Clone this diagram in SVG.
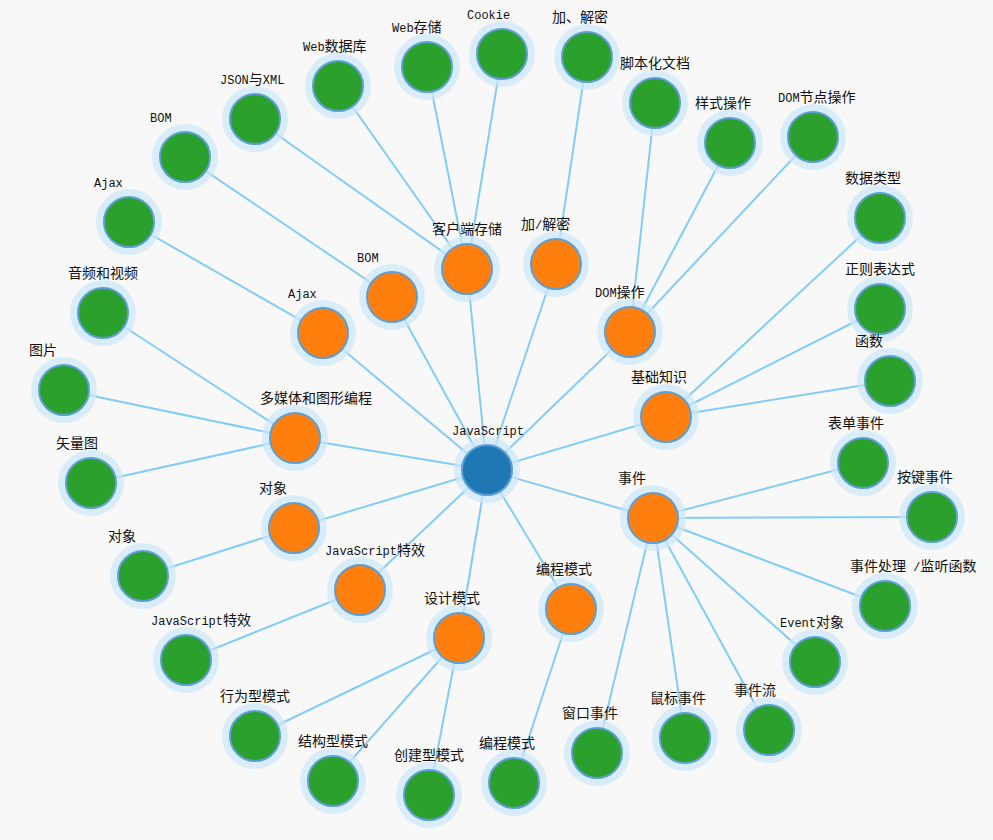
<svg xmlns="http://www.w3.org/2000/svg" width="993" height="840" viewBox="0 0 993 840">
<style>
.bg{fill:#f8f8f8}
.e{stroke:#82cdf8;stroke-width:2;fill:none}
.h{fill:#cce7fb;opacity:0.7}
.c{stroke:#5b9fd6;stroke-width:2}
.g{fill:#2ca02c}
.o{fill:#ff7f0e}
.b{fill:#1f77b4}
text{font-family:"Liberation Mono","Noto Sans CJK SC",monospace;font-size:14px;fill:#111}
.m{font-size:12px}
</style>
<rect class="bg" x="0" y="0" width="993" height="840"/>
<g id="connectors">
<line class="e" x1="487" y1="470" x2="467" y2="269"/>
<line class="e" x1="487" y1="470" x2="392" y2="297"/>
<line class="e" x1="487" y1="470" x2="323" y2="333"/>
<line class="e" x1="487" y1="470" x2="556" y2="264"/>
<line class="e" x1="487" y1="470" x2="630" y2="332"/>
<line class="e" x1="487" y1="470" x2="666" y2="417"/>
<line class="e" x1="487" y1="470" x2="653" y2="518"/>
<line class="e" x1="487" y1="470" x2="571" y2="609"/>
<line class="e" x1="487" y1="470" x2="459" y2="638"/>
<line class="e" x1="487" y1="470" x2="360" y2="590"/>
<line class="e" x1="487" y1="470" x2="294" y2="528"/>
<line class="e" x1="487" y1="470" x2="295" y2="438"/>
<line class="e" x1="467" y1="269" x2="338" y2="86"/>
<line class="e" x1="467" y1="269" x2="427" y2="67"/>
<line class="e" x1="467" y1="269" x2="502" y2="54"/>
<line class="e" x1="467" y1="269" x2="255" y2="119"/>
<line class="e" x1="392" y1="297" x2="185" y2="157"/>
<line class="e" x1="323" y1="333" x2="129" y2="222"/>
<line class="e" x1="556" y1="264" x2="587" y2="57"/>
<line class="e" x1="630" y1="332" x2="655" y2="103"/>
<line class="e" x1="630" y1="332" x2="730" y2="143"/>
<line class="e" x1="630" y1="332" x2="813" y2="137"/>
<line class="e" x1="666" y1="417" x2="880" y2="218"/>
<line class="e" x1="666" y1="417" x2="880" y2="309"/>
<line class="e" x1="666" y1="417" x2="890" y2="381"/>
<line class="e" x1="653" y1="518" x2="863" y2="463"/>
<line class="e" x1="653" y1="518" x2="932" y2="517"/>
<line class="e" x1="653" y1="518" x2="885" y2="606"/>
<line class="e" x1="653" y1="518" x2="815" y2="662"/>
<line class="e" x1="653" y1="518" x2="769" y2="730"/>
<line class="e" x1="653" y1="518" x2="685" y2="738"/>
<line class="e" x1="653" y1="518" x2="597" y2="753"/>
<line class="e" x1="571" y1="609" x2="514" y2="783"/>
<line class="e" x1="459" y1="638" x2="429" y2="795"/>
<line class="e" x1="459" y1="638" x2="333" y2="781"/>
<line class="e" x1="459" y1="638" x2="255" y2="736"/>
<line class="e" x1="360" y1="590" x2="186" y2="660"/>
<line class="e" x1="294" y1="528" x2="143" y2="576"/>
<line class="e" x1="295" y1="438" x2="91" y2="483"/>
<line class="e" x1="295" y1="438" x2="64" y2="390"/>
<line class="e" x1="295" y1="438" x2="103" y2="313"/>
</g>
<g id="n-js"><circle class="h" cx="487" cy="470" r="33"/><circle class="c b" cx="487" cy="470" r="25"/><text class="m" x="452" y="435">JavaScript</text></g>
<g id="n-khd"><circle class="h" cx="467" cy="269" r="33"/><circle class="c o" cx="467" cy="269" r="25"/><text x="432" y="234">客户端存储</text></g>
<g id="n-bomO"><circle class="h" cx="392" cy="297" r="33"/><circle class="c o" cx="392" cy="297" r="25"/><text class="m" x="357" y="262">BOM</text></g>
<g id="n-ajaxO"><circle class="h" cx="323" cy="333" r="33"/><circle class="c o" cx="323" cy="333" r="25"/><text class="m" x="288" y="298">Ajax</text></g>
<g id="n-jmO"><circle class="h" cx="556" cy="264" r="33"/><circle class="c o" cx="556" cy="264" r="25"/><text x="521" y="229">加<tspan class="m">/</tspan>解密</text></g>
<g id="n-domO"><circle class="h" cx="630" cy="332" r="33"/><circle class="c o" cx="630" cy="332" r="25"/><text x="595" y="297"><tspan class="m">DOM</tspan>操作</text></g>
<g id="n-jc"><circle class="h" cx="666" cy="417" r="33"/><circle class="c o" cx="666" cy="417" r="25"/><text x="631" y="382">基础知识</text></g>
<g id="n-sj"><circle class="h" cx="653" cy="518" r="33"/><circle class="c o" cx="653" cy="518" r="25"/><text x="618" y="483">事件</text></g>
<g id="n-bcO"><circle class="h" cx="571" cy="609" r="33"/><circle class="c o" cx="571" cy="609" r="25"/><text x="536" y="574">编程模式</text></g>
<g id="n-sjms"><circle class="h" cx="459" cy="638" r="33"/><circle class="c o" cx="459" cy="638" r="25"/><text x="424" y="603">设计模式</text></g>
<g id="n-texO"><circle class="h" cx="360" cy="590" r="33"/><circle class="c o" cx="360" cy="590" r="25"/><text x="325" y="555"><tspan class="m">JavaScript</tspan>特效</text></g>
<g id="n-dxO"><circle class="h" cx="294" cy="528" r="33"/><circle class="c o" cx="294" cy="528" r="25"/><text x="259" y="493">对象</text></g>
<g id="n-dmt"><circle class="h" cx="295" cy="438" r="33"/><circle class="c o" cx="295" cy="438" r="25"/><text x="260" y="403">多媒体和图形编程</text></g>
<g id="n-webdb"><circle class="h" cx="338" cy="86" r="33"/><circle class="c g" cx="338" cy="86" r="25"/><text x="303" y="51"><tspan class="m">Web</tspan>数据库</text></g>
<g id="n-webcc"><circle class="h" cx="427" cy="67" r="33"/><circle class="c g" cx="427" cy="67" r="25"/><text x="392" y="32"><tspan class="m">Web</tspan>存储</text></g>
<g id="n-cookie"><circle class="h" cx="502" cy="54" r="33"/><circle class="c g" cx="502" cy="54" r="25"/><text class="m" x="467" y="19">Cookie</text></g>
<g id="n-json"><circle class="h" cx="255" cy="119" r="33"/><circle class="c g" cx="255" cy="119" r="25"/><text x="220" y="84"><tspan class="m">JSON</tspan>与<tspan class="m">XML</tspan></text></g>
<g id="n-bomG"><circle class="h" cx="185" cy="157" r="33"/><circle class="c g" cx="185" cy="157" r="25"/><text class="m" x="150" y="122">BOM</text></g>
<g id="n-ajaxG"><circle class="h" cx="129" cy="222" r="33"/><circle class="c g" cx="129" cy="222" r="25"/><text class="m" x="94" y="187">Ajax</text></g>
<g id="n-jmG"><circle class="h" cx="587" cy="57" r="33"/><circle class="c g" cx="587" cy="57" r="25"/><text x="552" y="22">加、解密</text></g>
<g id="n-jbh"><circle class="h" cx="655" cy="103" r="33"/><circle class="c g" cx="655" cy="103" r="25"/><text x="620" y="68">脚本化文档</text></g>
<g id="n-ysc"><circle class="h" cx="730" cy="143" r="33"/><circle class="c g" cx="730" cy="143" r="25"/><text x="695" y="108">样式操作</text></g>
<g id="n-domjd"><circle class="h" cx="813" cy="137" r="33"/><circle class="c g" cx="813" cy="137" r="25"/><text x="778" y="102"><tspan class="m">DOM</tspan>节点操作</text></g>
<g id="n-sjlx"><circle class="h" cx="880" cy="218" r="33"/><circle class="c g" cx="880" cy="218" r="25"/><text x="845" y="183">数据类型</text></g>
<g id="n-zz"><circle class="h" cx="880" cy="309" r="33"/><circle class="c g" cx="880" cy="309" r="25"/><text x="845" y="274">正则表达式</text></g>
<g id="n-hs"><circle class="h" cx="890" cy="381" r="33"/><circle class="c g" cx="890" cy="381" r="25"/><text x="855" y="346">函数</text></g>
<g id="n-bd"><circle class="h" cx="863" cy="463" r="33"/><circle class="c g" cx="863" cy="463" r="25"/><text x="828" y="428">表单事件</text></g>
<g id="n-aj"><circle class="h" cx="932" cy="517" r="33"/><circle class="c g" cx="932" cy="517" r="25"/><text x="897" y="482">按键事件</text></g>
<g id="n-sjcl"><circle class="h" cx="885" cy="606" r="33"/><circle class="c g" cx="885" cy="606" r="25"/><text x="850" y="571">事件处理<tspan class="m" xml:space="preserve"> /</tspan>监听函数</text></g>
<g id="n-event"><circle class="h" cx="815" cy="662" r="33"/><circle class="c g" cx="815" cy="662" r="25"/><text x="780" y="627"><tspan class="m">Event</tspan>对象</text></g>
<g id="n-sjl"><circle class="h" cx="769" cy="730" r="33"/><circle class="c g" cx="769" cy="730" r="25"/><text x="734" y="695">事件流</text></g>
<g id="n-sb"><circle class="h" cx="685" cy="738" r="33"/><circle class="c g" cx="685" cy="738" r="25"/><text x="650" y="703">鼠标事件</text></g>
<g id="n-ck"><circle class="h" cx="597" cy="753" r="33"/><circle class="c g" cx="597" cy="753" r="25"/><text x="562" y="718">窗口事件</text></g>
<g id="n-bcG"><circle class="h" cx="514" cy="783" r="33"/><circle class="c g" cx="514" cy="783" r="25"/><text x="479" y="748">编程模式</text></g>
<g id="n-cjx"><circle class="h" cx="429" cy="795" r="33"/><circle class="c g" cx="429" cy="795" r="25"/><text x="394" y="760">创建型模式</text></g>
<g id="n-jgx"><circle class="h" cx="333" cy="781" r="33"/><circle class="c g" cx="333" cy="781" r="25"/><text x="298" y="746">结构型模式</text></g>
<g id="n-xwx"><circle class="h" cx="255" cy="736" r="33"/><circle class="c g" cx="255" cy="736" r="25"/><text x="220" y="701">行为型模式</text></g>
<g id="n-texG"><circle class="h" cx="186" cy="660" r="33"/><circle class="c g" cx="186" cy="660" r="25"/><text x="151" y="625"><tspan class="m">JavaScript</tspan>特效</text></g>
<g id="n-dxG"><circle class="h" cx="143" cy="576" r="33"/><circle class="c g" cx="143" cy="576" r="25"/><text x="108" y="541">对象</text></g>
<g id="n-slt"><circle class="h" cx="91" cy="483" r="33"/><circle class="c g" cx="91" cy="483" r="25"/><text x="56" y="448">矢量图</text></g>
<g id="n-tp"><circle class="h" cx="64" cy="390" r="33"/><circle class="c g" cx="64" cy="390" r="25"/><text x="29" y="355">图片</text></g>
<g id="n-ypsp"><circle class="h" cx="103" cy="313" r="33"/><circle class="c g" cx="103" cy="313" r="25"/><text x="68" y="278">音频和视频</text></g>
</svg>
